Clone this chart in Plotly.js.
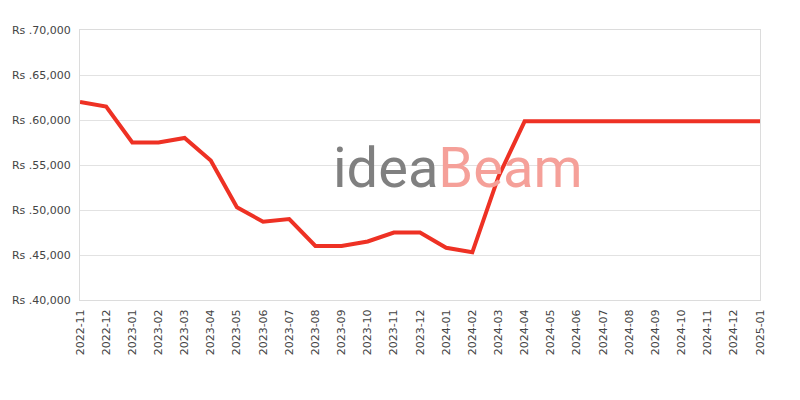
<!DOCTYPE html>
<html>
<head>
<meta charset="utf-8">
<script src="https://cdn.plot.ly/plotly-3.0.1.min.js"></script>
<style>
  html, body { margin: 0; padding: 0; background: #fff; }
  #chart { width: 800px; height: 400px; }
</style>
</head>
<body>
<div id="chart"></div>
<script>
// monthly price points
const months = [
    '2022-11', '2022-12', '2023-01', '2023-02', '2023-03', '2023-04',
    '2023-05', '2023-06', '2023-07', '2023-08', '2023-09', '2023-10',
    '2023-11', '2023-12', '2024-01', '2024-02', '2024-03', '2024-04',
    '2024-05', '2024-06', '2024-07', '2024-08', '2024-09', '2024-10',
    '2024-11', '2024-12', '2025-01'
];
const prices = [
    62000, 61500, 57500, 57500, 58000, 55500,
    50300, 48700, 49000, 46000, 46000, 46500,
    47500, 47500, 45800, 45300, 53700, 59850,
    59850, 59850, 59850, 59850, 59850, 59850,
    59850, 59850, 59850
];
const yTicks = [40000, 45000, 50000, 55000, 60000, 65000, 70000];
const yTickText = yTicks.map((v) => 'Rs .' + v.toLocaleString('en-US'));

const trace = {
    x: months,
    y: prices,
    type: 'scatter',
    mode: 'lines',
    line: { color: '#ee3124', width: 4 },
    hoverinfo: 'x+y'
};

const layout = {
    width: 800,
    height: 400,
    margin: { l: 80, r: 40, t: 30, b: 100 },
    paper_bgcolor: '#ffffff',
    plot_bgcolor: '#ffffff',
    showlegend: false,
    font: { family: 'DejaVu Sans, sans-serif', size: 11, color: '#444' },
    xaxis: {
        type: 'category',
        range: [0, months.length - 1],
        tickangle: -90,
        showgrid: false,
        showline: true,
        mirror: true,
        linecolor: '#dcdcdc',
        linewidth: 1,
        ticks: '',
        ticklabelstandoff: 4,
        tickfont: { size: 11, color: '#444' }
    },
    yaxis: {
        range: [40000, 70000],
        tickmode: 'array',
        tickvals: yTicks,
        ticktext: yTickText,
        showgrid: true,
        gridcolor: '#e2e2e2',
        gridwidth: 1,
        zeroline: false,
        showline: true,
        mirror: true,
        linecolor: '#dcdcdc',
        linewidth: 1,
        ticks: '',
        ticklabelstandoff: 6,
        tickfont: { size: 11, color: '#444' }
    },
    annotations: [{
        xref: 'paper',
        yref: 'paper',
        x: 0.556,
        y: 0.49,
        xanchor: 'center',
        yanchor: 'middle',
        showarrow: false,
        text: '<span style="color:#808080">idea</span><span style="color:#f5a099">Beam</span>',
        font: { family: 'Roboto, sans-serif', size: 56 }
    }]
};

Plotly.newPlot('chart', [trace], layout, { displayModeBar: false, staticPlot: true });
</script>
</body>
</html>
